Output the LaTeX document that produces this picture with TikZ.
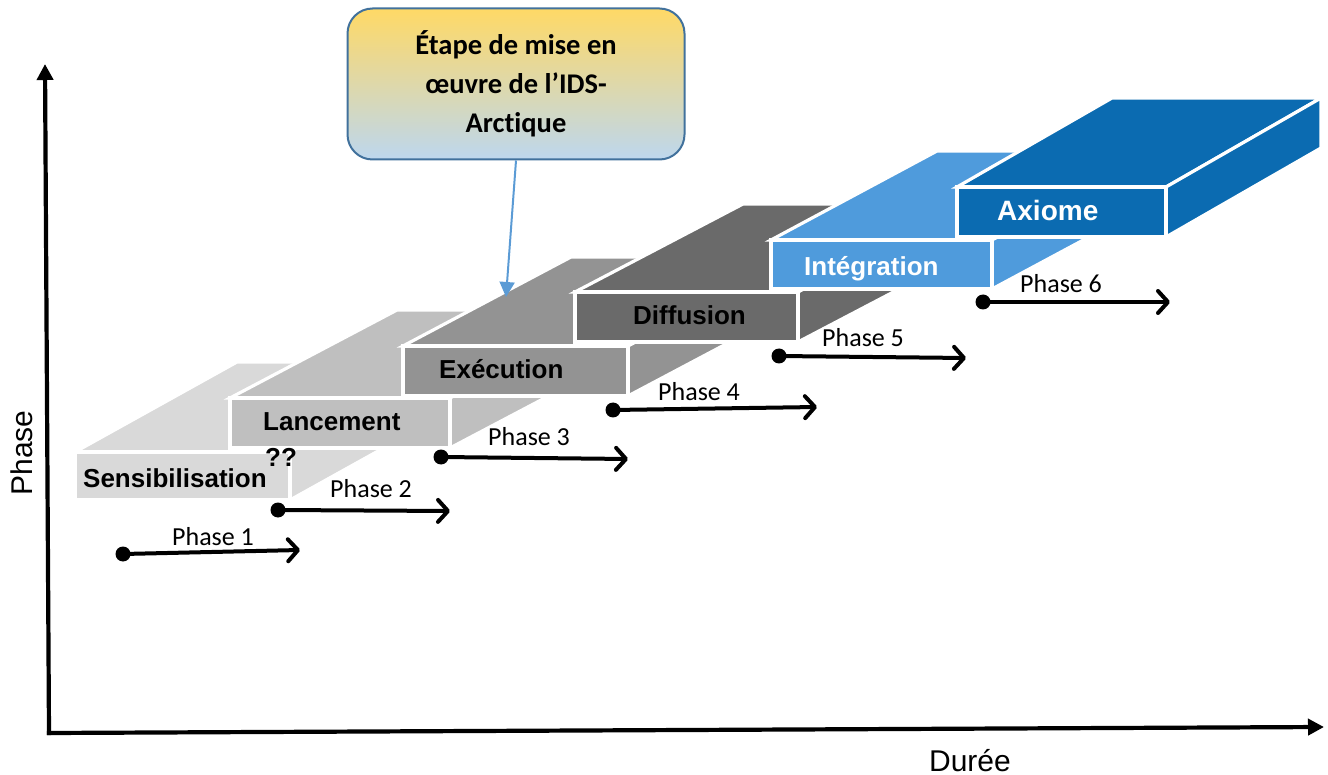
\documentclass[tikz,border=0pt]{standalone}
\usepackage{fontspec}
\setmainfont{Liberation Sans}
\newfontfamily\calib[Ligatures=CommonOff]{Carlito}
\usetikzlibrary{arrows.meta}
\definecolor{csens}{HTML}{D9D9D9}
\definecolor{clanc}{HTML}{BFBFBF}
\definecolor{cexe}{HTML}{939393}
\definecolor{cdiff}{HTML}{6A6A6A}
\definecolor{cint}{HTML}{4F9BDC}
\definecolor{cax}{HTML}{0B6BB1}
\definecolor{cyel}{HTML}{FFD966}
\definecolor{clblue}{HTML}{BDD7EE}
\definecolor{cborder}{HTML}{41719C}
\definecolor{carrow}{HTML}{5B9BD5}
\newcommand\stepblock[7]{%
  \filldraw[blockface,fill=#5] (#1,#2) -- ++(#6,-#7) -- ++(#3,0) -- ++(-#6,#7) -- cycle;
  \filldraw[blockface,fill=#5] (#1+#3,#2) -- ++(#6,-#7) -- ++(0,#4) -- ++(-#6,#7) -- cycle;
  \filldraw[blockface,fill=#5] (#1,#2) rectangle ++(#3,#4);
}
\begin{document}
\begin{tikzpicture}[x=1pt,y=-1pt,
  blockface/.style={draw=white,line width=3.2pt,line join=miter},
  blocklabel/.style={anchor=base west,font=\bfseries\fontsize{26}{30}\selectfont,inner sep=0pt},
  phaselabel/.style={anchor=base west,font=\calib\fontsize{26}{30}\selectfont,inner sep=0pt},
  phasearrow/.style={line width=4pt,-{Straight Barb[length=10pt,width=22pt,round]}},
  phasedot/.style={circle,fill=black,inner sep=0pt,minimum size=15pt},
  axis/.style={line width=4.2pt,line cap=rect,-{Triangle[length=16pt,width=16pt]}},
  axislabel/.style={font=\fontsize{30}{34}\selectfont,inner sep=0pt},
  calloutbox/.style={rounded corners=25pt,draw=cborder,line width=2pt,top color=cyel,bottom color=clblue,
     minimum width=337pt,minimum height=151pt,align=center,inner sep=0pt,
     font=\calib\bfseries\fontsize{28.5}{39}\selectfont},
  calloutarrow/.style={draw=carrow,line width=2pt,-{Triangle[length=15pt,width=15pt]}}]
\useasboundingbox (0,0) rectangle (1328,775);

% axes
\coordinate (O) at (49,733);
\coordinate (ytop) at (45,64);
\coordinate (xend) at (1324,727);
\draw[axis] (O) -- (ytop);
\draw[axis] (O) -- (xend);
\node[axislabel,rotate=90] (lphase) at (22,453) {Phase};
\node[axislabel,anchor=base] (lduree) at (970,771) {Durée};

% blocks
\stepblock{75}{452}{215}{48}{csens}{162}{90}
\stepblock{230}{398}{220}{50}{clanc}{167}{88}
\stepblock{403}{346}{225}{50}{cexe}{168}{89}
\stepblock{575}{292}{223}{50}{cdiff}{168}{88}
\stepblock{771}{240}{221}{49}{cint}{166}{89}
\stepblock{957}{187}{209}{50}{cax}{155}{89}

\node[blocklabel] (tsens) at (83,487) {Sensibilisation};
\node[blocklabel] (tlanc) at (263,430) {Lancement};
\node[blocklabel] (tqq) at (265,466) {??};
\node[blocklabel] (texe) at (439,379) {Exécution};
\node[blocklabel] (tdiff) at (633,325) {Diffusion};
\node[blocklabel,text=white] (tint) at (804,276) {Intégration};
\node[blocklabel,text=white,font=\bfseries\fontsize{28}{32}\selectfont] (tax) at (997,221) {Axiome};

% phase arrows
\node[phasedot] (d1) at (123,554) {};
\node[phasedot] (d2) at (278,510) {};
\node[phasedot] (d3) at (441,457) {};
\node[phasedot] (d4) at (613,410) {};
\node[phasedot] (d5) at (779,356) {};
\node[phasedot] (d6) at (983,302) {};
\coordinate (e1) at (300,550);
\coordinate (e2) at (450,511);
\coordinate (e3) at (628,459);
\coordinate (e4) at (817,407);
\coordinate (e5) at (966,358);
\coordinate (e6) at (1170,302);
\foreach \i in {1,...,6}{\draw[phasearrow] (d\i.center) -- (e\i);}
\node[phaselabel] (p1) at (172,545) {Phase 1};
\node[phaselabel] (p2) at (330,497) {Phase 2};
\node[phaselabel] (p3) at (488,446) {Phase 3};
\node[phaselabel] (p4) at (658,401) {Phase 4};
\node[phaselabel] (p5) at (822,347) {Phase 5};
\node[phaselabel] (p6) at (1020,293) {Phase 6};

% callout
\node[calloutbox] (call) at (516,84) {Étape de mise en\\œuvre de l’IDS-\\Arctique};
\coordinate (ctip) at (506,297);
\draw[calloutarrow] (call.south) -- (ctip);
\end{tikzpicture}
\end{document}
